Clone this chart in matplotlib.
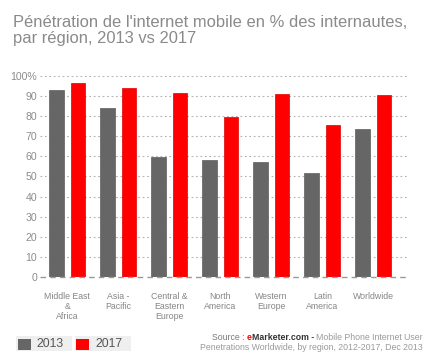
import matplotlib
matplotlib.use("Agg")
import matplotlib.pyplot as plt
from matplotlib.patches import Rectangle
import numpy as np

plt.rcParams["font.family"] = ["Liberation Sans", "DejaVu Sans"]

regions = ["Middle East\n&\nAfrica", "Asia -\nPacific", "Central &\nEastern\nEurope",
           "North\nAmerica", "Western\nEurope", "Latin\nAmerica", "Worldwide"]
vals_2013 = [93, 84, 59.7, 58, 57.2, 51.9, 73.6]
vals_2017 = [96.5, 94.2, 91.7, 79.5, 90.8, 75.5, 90.3]
yticks = [0, 10, 20, 30, 40, 50, 60, 70, 80, 90, 100]
ytick_labels = ["0", "10", "20", "30", "40", "50", "60", "70", "80", "90", "100%"]
title_lines = ["Pénétration de l'internet mobile en % des internautes,", "par région, 2013 vs 2017"]

GREY = "#666666"
RED = "#ff0000"
TXT = "#8c8c8c"

W, H = 439, 356
fig = plt.figure(figsize=(W / 100, H / 100), dpi=100)
fig.patch.set_facecolor("white")

# axes placed in pixel terms
ax = fig.add_axes([40 / W, 1 - 277 / H, (407 - 40) / W, (277 - 75.9) / H])
x = np.arange(len(regions))
ax.bar(x - 0.208, vals_2013, width=0.29, color=GREY, edgecolor="#5e5e5e", lw=0.5, zorder=3)
ax.bar(x + 0.208, vals_2017, width=0.29, color=RED, edgecolor="#e00000", lw=0.5, zorder=3)

ax.set_xlim(-0.535, 6.66)
ax.set_ylim(0, 100)
ax.set_yticks(yticks)
ax.set_yticklabels(ytick_labels)
ax.set_xticks(x)
ax.set_xticklabels(regions, linespacing=1.15)
for s in ax.spines.values():
    s.set_visible(False)
for t in yticks[1:]:
    ax.axhline(t, color="#b0b0b0", lw=0.8, ls=(0, (1.5, 2.5)), zorder=1)
ax.axhline(0, color="#999999", lw=1.0, ls=(0, (4, 3)), zorder=4, clip_on=False)
ax.tick_params(axis="y", length=0, pad=2, labelsize=7.6, labelcolor=TXT)
ax.tick_params(axis="x", length=0, pad=11, labelsize=6.3, labelcolor="#858585")

# title, one text per line at measured baselines
for ln, yb in zip(title_lines, [27, 43.5]):
    fig.text(13 / W, 1 - yb / H, ln, ha="left", va="baseline", fontsize=11.9, color="#8a8a8a")

# legend boxes
for i, (lab, col) in enumerate([("2013", GREY), ("2017", RED)]):
    x0 = 16 + i * 59
    fig.add_artist(Rectangle((x0 / W, 1 - 351 / H), 56 / W, 15 / H, transform=fig.transFigure,
                             fc="#efefef", ec="none"))
    fig.add_artist(Rectangle(((x0 + 1.5) / W, 1 - 350 / H), 13 / W, 11 / H, transform=fig.transFigure,
                             fc=col, ec="none"))
    fig.text((x0 + 20) / W, 1 - 344 / H, lab, ha="left", va="center", fontsize=8.8, color="#555555")

# source, drawn right-to-left so it ends at the right edge
r = fig.canvas.get_renderer()
def right_line(parts, xr, y):
    for txt, col, wt in reversed(parts):
        t = fig.text(xr / W, 1 - y / H, txt, ha="right", va="center", fontsize=6.3, color=col, fontweight=wt)
        xr -= t.get_window_extent(r).width

right_line([("Source : ", "#7a7a7a", "normal"), ("e", RED, "bold"), ("Marketer.com - ", "#333333", "bold"),
            ("Mobile Phone Internet User", "#9a9a9a", "normal")], 423, 338)
right_line([("Penetrations Worldwide, by region, 2012-2017, Dec 2013", "#9a9a9a", "normal")], 423, 348)

fig.savefig("out.png", dpi=100)
